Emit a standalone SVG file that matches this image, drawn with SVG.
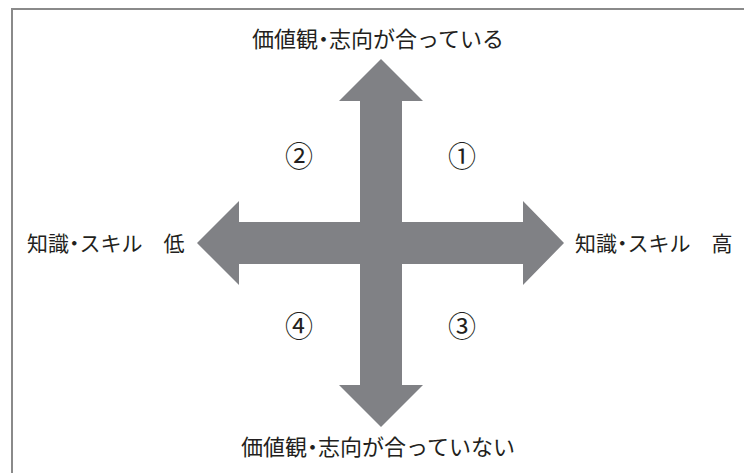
<svg xmlns="http://www.w3.org/2000/svg" width="744" height="473" viewBox="0 0 744 473">
<style>
.lbl{font-family:"Noto Sans CJK JP","Noto Sans",sans-serif;fill:#231f20}
.big{font-size:22px}
.side{font-size:21px}
.dot{font-feature-settings:"halt" 1}
.num{font-family:"Noto Sans CJK JP",serif;font-size:28px;fill:#231f20;text-anchor:middle}
.arrow{fill:#808185}
</style>
<rect x="0" y="0" width="744" height="473" fill="#ffffff"/>
<path d="M12 480 V9 H760" fill="none" stroke="#8a8a8a" stroke-width="2"/>
<g id="connectors">
<polygon class="arrow" points="381,59 423,101 402,101 402,222 523,222 523,201 564,243 523,285 523,264 402,264 402,385 423,385 381,427 339,385 360,385 360,264 239,264 239,285 197,243 239,201 239,222 360,222 360,101 339,101"/>
</g>
<g id="label-top"><text class="lbl big" x="252" y="47">価値観<tspan class="dot">・</tspan>志向が合っている</text></g>
<g id="label-bottom"><text class="lbl big" x="241" y="455">価値観<tspan class="dot">・</tspan>志向が合っていない</text></g>
<g id="label-left"><text class="lbl side" x="27" y="251">知識<tspan class="dot">・</tspan>スキル　低</text></g>
<g id="label-right"><text class="lbl side" x="575" y="251">知識<tspan class="dot">・</tspan>スキル　高</text></g>
<g id="q1"><text class="num" x="462" y="167">①</text></g>
<g id="q2"><text class="num" x="299" y="167">②</text></g>
<g id="q3"><text class="num" x="462" y="337">③</text></g>
<g id="q4"><text class="num" x="299" y="337">④</text></g>
</svg>
